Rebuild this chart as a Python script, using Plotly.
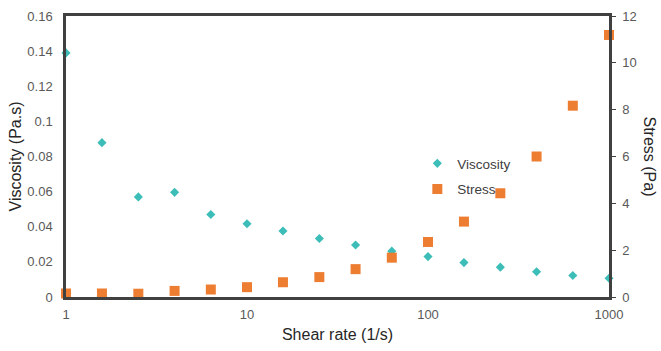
import plotly.graph_objects as go

shear_rate = [1, 1.58, 2.51, 3.98, 6.31, 10, 15.8, 25.1, 39.8, 63.1, 100, 158, 251, 398, 631, 1000]
viscosity = [0.139, 0.0879, 0.0570, 0.0596, 0.0470, 0.0417, 0.0376, 0.0333, 0.0296, 0.0261,
             0.0230, 0.0196, 0.0170, 0.0144, 0.0122, 0.0107]
stress = [0.15, 0.15, 0.14, 0.26, 0.32, 0.42, 0.63, 0.85, 1.19, 1.68, 2.35, 3.22, 4.43, 6.0, 8.17, 11.19]

visc_ticks = [0, 0.02, 0.04, 0.06, 0.08, 0.1, 0.12, 0.14, 0.16]
visc_tick_text = ["0", "0.02", "0.04", "0.06", "0.08", "0.1", "0.12", "0.14", "0.16"]
stress_ticks = [0, 2, 4, 6, 8, 10, 12]
x_ticks = [1, 10, 100, 1000]
x_tick_text = ["1", "10", "100", "1000"]

FONT = "Liberation Sans, Arial, sans-serif"
TICK_COLOR = "#595959"
TITLE_COLOR = "#262626"
LINE_COLOR = "#404040"

fig = go.Figure()
fig.add_trace(go.Scatter(
    x=shear_rate, y=viscosity, mode="markers", name="Viscosity",
    marker=dict(symbol="diamond", size=7, color="#3DBDB8"),
    cliponaxis=False, legendgroup="a",
))
fig.add_trace(go.Scatter(
    x=shear_rate, y=stress, mode="markers", name="Stress", yaxis="y2",
    marker=dict(symbol="square", size=10, color="#ED7D31"),
    cliponaxis=False, legendgroup="b",
))

fig.update_layout(
    width=661, height=351,
    margin=dict(l=66, r=52, t=9, b=54),
    paper_bgcolor="white", plot_bgcolor="white",
    font=dict(family=FONT, size=13, color=TICK_COLOR),
    showlegend=True,
    legend=dict(x=0.647, y=0.53, xanchor="left", yanchor="top",
                bgcolor="rgba(0,0,0,0)", tracegroupgap=5,
                font=dict(family=FONT, size=13.5, color="#404040")),
    xaxis=dict(
        type="log", range=[0, 3], tickvals=x_ticks, ticktext=x_tick_text,
        showgrid=False, zeroline=False, showline=True, linecolor=LINE_COLOR, linewidth=2.5,
        mirror=True, ticks="", ticklabelstandoff=4,
        tickfont=dict(family=FONT, size=13, color=TICK_COLOR),
        title=dict(text="Shear rate (1/s)", font=dict(family=FONT, size=16, color=TITLE_COLOR), standoff=8),
    ),
    yaxis=dict(
        range=[0, 0.16], tickvals=visc_ticks, ticktext=visc_tick_text,
        showgrid=False, zeroline=False, showline=True, linecolor=LINE_COLOR, linewidth=2.5,
        ticks="", ticklabelstandoff=8,
        tickfont=dict(family=FONT, size=13, color=TICK_COLOR),
        title=dict(text="Viscosity (Pa.s)", font=dict(family=FONT, size=16, color=TITLE_COLOR), standoff=2),
    ),
    yaxis2=dict(
        range=[0, 12], tickvals=stress_ticks, overlaying="y", side="right",
        showgrid=False, zeroline=False, showline=True, linecolor=LINE_COLOR, linewidth=2.5,
        ticks="outside", ticklen=4, tickwidth=1, tickcolor=LINE_COLOR, ticklabelstandoff=4,
        tickfont=dict(family=FONT, size=13, color=TICK_COLOR),
    ),
    annotations=[dict(
        text="Stress (Pa)", textangle=90, xref="paper", yref="paper",
        x=1.0, y=0.5, xanchor="center", yanchor="middle", xshift=40, showarrow=False,
        font=dict(family=FONT, size=16, color=TITLE_COLOR),
    )],
)

fig.write_html("out.html")
